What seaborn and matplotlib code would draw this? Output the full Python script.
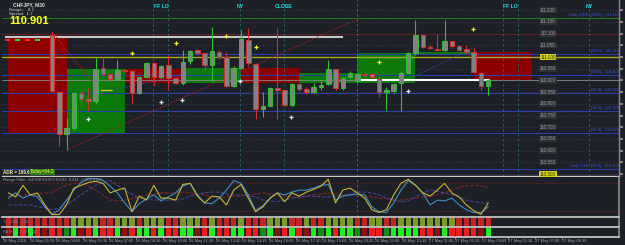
import numpy as np
import pandas as pd
import matplotlib
matplotlib.use("Agg")
import matplotlib.pyplot as plt
import matplotlib.transforms as mtransforms
from matplotlib.patches import Rectangle
import seaborn as sns

# ---------------- data ----------------
symbol_text = "CHFJPY, M30"
range_text = "Range:    8.1"
spread_text = "Spread:  1.7"
last_price_text = "110.901"

candle_open = [111.094, 110.850, 110.671, 110.697, 110.846, 110.821, 110.812, 110.953, 110.927, 110.906,
               110.945, 110.940, 110.846, 110.915, 110.974, 110.915, 110.966, 110.910, 110.889, 110.983,
               111.030, 111.017, 110.966, 111.021, 111.000, 110.876, 110.953, 111.073, 110.970, 110.778,
               110.791, 110.868, 110.859, 110.795, 110.885, 110.863, 110.850, 110.872, 110.885, 110.949,
               110.868, 110.915, 110.897, 110.927, 110.927, 110.906, 110.850, 110.855, 110.889, 110.932,
               111.017, 111.094, 111.043, 111.034, 111.030, 111.068, 111.047, 111.034, 111.021, 110.932,
               110.876]
candle_high = [111.105, 110.855, 110.739, 110.850, 110.850, 110.868, 111.000, 110.999, 110.930, 110.987,
               110.950, 110.945, 110.920, 110.980, 110.980, 110.966, 111.010, 110.915, 111.030, 111.030,
               111.035, 111.020, 111.128, 111.030, 111.020, 110.960, 111.115, 111.124, 110.975, 110.850,
               110.870, 111.124, 110.860, 110.890, 110.890, 110.870, 110.890, 110.900, 110.987, 110.950,
               110.915, 110.940, 110.930, 110.935, 110.930, 110.915, 110.870, 110.890, 110.940, 111.020,
               111.158, 111.100, 111.050, 111.100, 111.158, 111.070, 111.050, 111.050, 111.040, 110.935,
               110.905]
candle_low = [110.850, 110.620, 110.603, 110.690, 110.786, 110.774, 110.800, 110.920, 110.900, 110.900,
              110.930, 110.803, 110.840, 110.910, 110.880, 110.910, 110.860, 110.885, 110.880, 110.970,
              111.010, 110.940, 110.893, 110.990, 110.870, 110.870, 110.950, 110.960, 110.735, 110.744,
              110.790, 110.735, 110.790, 110.790, 110.855, 110.840, 110.845, 110.860, 110.880, 110.860,
              110.860, 110.910, 110.890, 110.915, 110.910, 110.830, 110.769, 110.845, 110.769, 110.930,
              111.010, 111.040, 111.035, 111.025, 111.025, 111.040, 111.025, 111.015, 110.930, 110.860,
              110.838]
candle_close = [110.855, 110.671, 110.697, 110.846, 110.821, 110.812, 110.949, 110.927, 110.906, 110.944,
                110.940, 110.846, 110.915, 110.974, 110.915, 110.962, 110.910, 110.889, 110.979, 111.026,
                111.017, 110.966, 111.026, 111.000, 110.876, 110.953, 111.077, 110.974, 110.778, 110.791,
                110.868, 110.859, 110.795, 110.885, 110.863, 110.850, 110.872, 110.880, 110.949, 110.868,
                110.910, 110.932, 110.927, 110.925, 110.915, 110.850, 110.859, 110.885, 110.932, 111.017,
                111.094, 111.043, 111.038, 111.030, 111.068, 111.047, 111.030, 111.021, 110.936, 110.876,
                110.901]

# session boxes (start bar, 8 bars wide)
zone_start = [-6, 2, 10, 18, 26, 34, 42, 50, 58]
zone_top = [111.085, 110.949, 110.949, 110.953, 110.953, 110.932, 111.017, 111.021, 111.021]
zone_bottom = [110.671, 110.671, 110.889, 110.889, 110.889, 110.889, 110.889, 111.013, 110.902]
zone_bull = [0, 1, 0, 1, 0, 1, 1, 1, 0]

# pivot levels
pivot_levels = [111.167, 111.013, 110.923, 110.846, 110.769, 110.675, 110.523]
pivot_names = ["[R2.0]", "[R1.0]", "[S0.5]", "[S1.0]", "[S1.5]", "[S1.8]", "[S2.0]"]
pivot_prefix = ["Daily HIGH", "", "", "", "", "", "Daily LOW"]

price_levels = [111.200, 111.150, 111.100, 111.050, 111.000, 110.950, 110.900, 110.850,
                110.800, 110.750, 110.700, 110.650, 110.600, 110.550, 110.500]
highlight_levels = [111.000, 110.500]

round_level = 111.100
yellow_level = 111.000
bid_level = 110.901

seg_price = [111.085, 110.901]
seg_start = [-6.5, 42.0]
seg_end = [40.0, 60.2]

trend_x = [2.06, 41.7]
trend_y = [110.603, 111.158]
ma_red_x = [0.0, 3.4, 6.6]
ma_red_y = [111.108, 110.974, 110.859]
ma_yel_x = [6.8, 8.2]
ma_yel_y = [110.859, 110.859]
ma_blue_x = [8.2, 15.0, 23.1]
ma_blue_y = [110.859, 110.902, 110.974]
ma_blue2_x = [49.7, 57.9]
ma_blue2_y = [110.915, 111.038]

white_mark_x = [4.95, 15.0, 17.9, 25.9, 32.9, 49.0]
white_mark_y = [110.735, 110.808, 110.816, 110.897, 110.744, 110.855]
yellow_mark_x = [11.0, 17.1, 23.9, 28.1, 45.0, 57.9]
yellow_mark_y = [111.017, 111.060, 111.090, 111.043, 110.979, 111.120]

# range filter (bars -6..60)
rf_yellow = [59, 49, 78, 54, 59, 29, 5, 5, 29, 71, 78, 85, 88, 83, 59, 66, 71, 12, 51, 41, 78, 46, 46, 41, 80, 83, 51, 34, 51,
             49, 29, 66, 80, 46, 12, 24, 46, 59, 37, 59, 51, 61, 68, 76, 93, 34, 66, 71, 59, 46, 17, 10, 17, 54, 83, 93,
             78, 59, 51, 66, 83, 59, 49, 29, 15, 5, 34]
rf_blue = [46, 59, 46, 54, 49, 24, 5, 17, 41, 66, 85, 95, 95, 90, 76, 59, 34, 12, 32, 44, 54, 39, 49, 59, 76, 83, 54, 34, 32,
           46, 66, 90, 83, 54, 15, 27, 46, 59, 54, 61, 66, 66, 71, 78, 80, 41, 51, 54, 56, 54, 24, 12, 10, 34, 66, 90,
           78, 59, 29, 41, 39, 46, 29, 17, 10, 10, 24]
rf_purple = [29, 29, 29, 29, 24, 22, 17, 22, 29, 41, 54, 66, 78, 85, 90, 78, 66, 56, 46, 44, 41, 41, 41, 41, 44, 51, 56, 59,
             61, 61, 56, 54, 54, 51, 49, 41, 39, 37, 41, 46, 49, 51, 51, 49, 49, 51, 51, 56, 61, 61, 59, 54, 46, 41, 37, 39,
             49, 59, 66, 63, 59, 54, 49, 41, 37, 34, 34]
rf_red = [51, 51, 54, 54, 56, 59, 61, 71, 78, 83, 85, 76, 66, 54, 41, 39, 41, 44, 49, 54, 56, 59, 59, 59, 61, 59, 56, 54,
          49, 46, 49, 51, 51, 54, 56, 59, 56, 54, 51, 49, 46, 51, 54, 56, 59, 56, 54, 54, 54, 51, 49, 46, 44, 41, 41, 44,
          46, 49, 51, 54, 59, 66, 73, 76, 78, 76, 73]

hist1_state = [0] * 9 + [1, 1, 1, 1, 0, 0, 1, 1, 1, 0, 1, 1, 1, 0, 0, 1, 1, 1, 0, 1, 0, 0, 0, 1, 0, 0, 0, 1, 1, 1, 0, 0, 1,
                         0, 0, 1, 1, 1, 1, 0, 0, 1, 1, 0, 0] + [1] * 8 + [0] * 5
hist2_state = [-1, 2, -2, 2, -2, -1, -2, -2, 1, 2, -1, -2, 2, -2, -2, 2, -1, -2, 2, 2, -2, 2, -2, -2, 2, 2, -1, -2, 2,
               -2, -2, 2, 2, -2, -2, 1, 2, -1, -2, 2, -2, -1, 2, 1, 2, -2, 2, 2, 1, -1, -2, -2, 1, 2, 2, 2, 2, -2, -2,
               -1, 2, -2, -2, -2, -2, -1, 2]

time_labels = ["25 May 2016", "26 May 02:30", "26 May 04:00", "26 May 05:30", "26 May 07:00", "26 May 08:30",
               "26 May 10:00", "26 May 11:30", "26 May 13:00", "26 May 14:30", "26 May 16:00", "26 May 17:30",
               "26 May 19:00", "26 May 20:30", "26 May 22:00", "26 May 23:30", "27 May 01:00", "27 May 02:30",
               "27 May 04:00", "27 May 05:30", "27 May 07:00", "27 May 08:30"]

session_labels = ["FF LO", "NY", "CLOSE", "FF LO", "NY"]

# ---------------- style ----------------
BG = "#1d2027"
sns.set_theme(style="dark")
NARROW = ["Liberation Sans Narrow", "Liberation Sans", "DejaVu Sans"]
SANS = ["Liberation Sans", "DejaVu Sans"]
plt.rcParams["font.family"] = SANS

W, H = 625, 245
fig = plt.figure(figsize=(W / 100, H / 100), dpi=100, facecolor=BG)

PX0, PXSTEP = 52.0, 7.27


def px_to_idx(px):
    return (px - PX0) / PXSTEP


def P(px, py):
    return px / W, 1 - py / H


def ftext(px, py, s, **kw):
    x, y = P(px, py)
    kw.setdefault("family", NARROW)
    kw.setdefault("fontsize", 3.5)
    kw.setdefault("va", "center")
    kw.setdefault("ha", "left")
    fig.text(x, y, s, **kw)


def add_ax(top, bottom):
    ax = fig.add_axes([2 / W, 1 - bottom / H, 617 / W, (bottom - top) / H])
    ax.set_facecolor(BG)
    ax.set_xlim(px_to_idx(2), px_to_idx(619))
    ax.set_xticks([])
    ax.set_yticks([])
    ax.grid(False)
    for s in ax.spines.values():
        s.set_visible(False)
    return ax


ax_main = add_ax(0, 175.5)
ax_rf = add_ax(176.5, 216.5)
ax_h1 = add_ax(217.5, 226.5)
ax_h2 = add_ax(227.5, 236.5)

# ---------------- main chart ----------------
ax = ax_main
ax.set_ylim(111.0 - (175.5 - 57) / 234, 111.0 + 57 / 234)
for lvl in price_levels:
    ax.axhline(lvl, color="#33363f", lw=0.6, ls=(0, (2, 2)), zorder=0.5)

zcols = ["#8c0000" if b == 0 else "#0b7a0b" for b in zone_bull]
ax.bar(zone_start, np.array(zone_top) - np.array(zone_bottom), bottom=zone_bottom, width=8,
       align="edge", color=zcols, linewidth=0, zorder=1)

ax.axhline(round_level, color="#6a1f24", lw=0.7, zorder=1.5)
ax.axhline(yellow_level, color="#a8a820", lw=1.0, zorder=1.5)
ax.axhline(bid_level, color="#8a8a8a", lw=0.6, zorder=1.5)
for i, lvl in enumerate(pivot_levels):
    ax.axhline(lvl, color="#1f7a1f" if i == 0 else "#2c3ea8", lw=0.8, zorder=1.5)
seg_cols = ["#c8c8c8", "#ffffff"]
ax.hlines(seg_price, seg_start, seg_end, colors=seg_cols, lw=1.5, zorder=2)

# session separators
for px in [153, 168, 240, 284, 503, 518, 589]:
    ax.axvline(px_to_idx(px), color="#28696c", lw=0.6, ls=(0, (3, 3)), zorder=1.6)
ax.axvline(px_to_idx(357), color="#6c6c6c", lw=0.6, ls=(0, (3, 3)), zorder=1.6)
ax_rf.axvline(px_to_idx(357), color="#6c6c6c", lw=0.6, ls=(0, (3, 3)), zorder=0.5)

ax.plot(trend_x, trend_y, color="#a02525", lw=0.7, ls=(0, (1.5, 1.5)), zorder=2)
ax.plot(ma_red_x, ma_red_y, color="#b02020", lw=0.7, ls=(0, (2, 1.5)), zorder=2)
ax.plot(ma_yel_x, ma_yel_y, color="#c8c820", lw=1.0, zorder=2)
ax.plot(ma_blue_x, ma_blue_y, color="#3a4fb0", lw=0.7, ls=(0, (1.5, 1.5)), zorder=2)
ax.plot(ma_blue2_x, ma_blue2_y, color="#3a4fb0", lw=0.7, ls=(0, (1.5, 1.5)), zorder=2)

o = np.array(candle_open)
h = np.array(candle_high)
l = np.array(candle_low)
c = np.array(candle_close)
bar_idx = np.arange(len(o))
up = c >= o
outline = np.where(up, "#2fc02f", "#d03030")
ax.vlines(bar_idx, l, h, colors=outline, lw=0.8, zorder=3)
ax.bar(bar_idx, np.maximum(np.abs(c - o), 0.0025), bottom=np.minimum(o, c), width=0.62,
       color="#828282", edgecolor=outline, linewidth=0.7, zorder=3.5)

ax.plot(white_mark_x, white_mark_y, "+", color="#e8f0ff", ms=3.2, mew=0.9, zorder=4)
ax.plot(yellow_mark_x, yellow_mark_y, "+", color="#ffff30", ms=3.2, mew=0.9, zorder=4)

ax.spines["right"].set_visible(True)
ax.spines["right"].set_color("#8a8a8a")
ax.spines["right"].set_linewidth(1.0)
ax.spines["bottom"].set_visible(True)
ax.spines["bottom"].set_color("#c8c8c8")
ax.spines["bottom"].set_linewidth(1.0)
ax.yaxis.tick_right()
ax.set_yticks(price_levels)
ax.tick_params(axis="y", which="both", length=3, width=1.2, colors="#9a9a9a", labelright=False, right=True)

trans = mtransforms.blended_transform_factory(fig.transFigure, ax.transData)
for lvl in price_levels:
    hl = lvl in highlight_levels
    ax.text(548 / W, lvl, f"{lvl:.3f}", transform=trans, ha="center", va="center", fontsize=3.3,
            family=NARROW, color="#2a2a00" if hl else "#9c9c9c", zorder=6,
            bbox=dict(boxstyle="square,pad=0.15", fc="#d2d21e" if hl else "#2f3136", ec="none"))
for lvl, name, pre in zip(pivot_levels, pivot_names, pivot_prefix):
    ax.text(591 / W, lvl + 0.003, f"{name} - {lvl:.3f}", transform=trans, ha="left", va="bottom",
            fontsize=2.8, family=NARROW, color="#3d5ce0", zorder=6, clip_on=True)
    if pre:
        ax.text(589 / W, lvl + 0.003, pre, transform=trans, ha="right", va="bottom",
                fontsize=2.8, family=NARROW, color="#3d5ce0", zorder=6)

# header texts
ftext(13, 5, symbol_text, color="#e0e0e0", fontweight="bold", family=SANS, fontsize=3.6)
ftext(9, 10, range_text, color="#cfcfcf", fontsize=3.2)
ftext(9, 14, spread_text, color="#cfcfcf", fontsize=3.2)
ftext(9, 21, last_price_text, color="#ffff22", fontweight="bold", family=SANS, fontsize=8)
for x0, col in [(5, "#ff2020"), (15, "#20e020"), (25, "#ff2020"), (35, "#20e020")]:
    fig.add_artist(Rectangle(P(x0, 41), 5 / W, 1.6 / H, transform=fig.transFigure, color=col, lw=0))
for lab, px in zip(session_labels, [161, 240, 284, 510, 589]):
    ftext(px, 7, lab, color="#19e3ee", fontweight="bold", family=SANS, fontsize=3.7, ha="center")

ftext(3, 172, "ADR = 199.6", color="#f4f4b0", fontweight="bold", family=SANS, fontsize=3.3)
ftext(30, 172, "Today=64.2", color="#ffff40", family=SANS, fontsize=3.3,
      bbox=dict(boxstyle="square,pad=0.1", fc="#2d7d1d", ec="none"))

# ---------------- range filter ----------------
ind_idx = np.arange(-6, 61)
rf = pd.DataFrame({"bar": ind_idx, "yellow": rf_yellow, "blue": rf_blue,
                   "purple": rf_purple, "red": rf_red})
ax_rf.set_ylim(0, 100)
ax_rf.axhline(85, color="#6e1f1f", lw=0.6, ls=(0, (3, 2)))
ax_rf.axhline(15, color="#6e1f1f", lw=0.6, ls=(0, (3, 2)))
sns.lineplot(data=rf, x="bar", y="red", ax=ax_rf, color="#8a2424", lw=0.7, linestyle="--", legend=False)
sns.lineplot(data=rf, x="bar", y="purple", ax=ax_rf, color="#4a45a0", lw=0.7, linestyle="--", legend=False)
sns.lineplot(data=rf, x="bar", y="blue", ax=ax_rf, color="#3a8fc8", lw=0.8, legend=False)
sns.lineplot(data=rf, x="bar", y="yellow", ax=ax_rf, color="#c8b432", lw=0.8, legend=False)
ax_rf.set_xlabel("")
ax_rf.set_ylabel("")
ax_rf.set_xticks([])
ax_rf.set_yticks([])
ax_rf.set_xlim(px_to_idx(2), px_to_idx(619))
ax_rf.spines["bottom"].set_visible(True)
ax_rf.spines["bottom"].set_color("#c8c8c8")
ax_rf.spines["right"].set_visible(True)
ax_rf.spines["right"].set_color("#8a8a8a")
ftext(3, 179.5, "Range Filter -64.500 64.500 0.041 -0.411 -0.009 0.055", color="#9a9a9a", fontsize=3.1)

# ---------------- histogram rows ----------------
c1 = {1: "#7c9a2c", 0: "#c42424"}
c2 = {2: "#22ee22", 1: "#178a17", -1: "#8e1010", -2: "#ee1c1c"}
ax_h1.bar(ind_idx, 1, width=0.74, color=[c1[s] for s in hist1_state], linewidth=0)
ax_h2.bar(ind_idx, 1, width=0.74, color=[c2[s] for s in hist2_state], linewidth=0)
for a in (ax_h1, ax_h2):
    a.set_ylim(0, 1)
    a.spines["bottom"].set_visible(True)
    a.spines["bottom"].set_color("#c8c8c8")
    a.spines["right"].set_visible(True)
    a.spines["right"].set_color("#8a8a8a")
ftext(3, 222, "Tr   -2.00   2.00", color="#8a8a8a", fontsize=2.7)
ftext(3, 232, "HA Hist   -2.00   2.00", color="#8a8a8a", fontsize=2.7)

tick_pos = [px_to_idx(3 + 26.6 * k) for k in range(len(time_labels))]
ax_h2.set_xticks(tick_pos)
ax_h2.set_xticklabels(time_labels, fontsize=2.9, family=NARROW, color="#a4a4a4")
for lab in ax_h2.get_xticklabels():
    lab.set_ha("left")
ax_h2.tick_params(axis="x", length=1.2, width=0.5, pad=0.6, colors="#a4a4a4", bottom=True)

fig.savefig("out.png", dpi=100, facecolor=BG)
